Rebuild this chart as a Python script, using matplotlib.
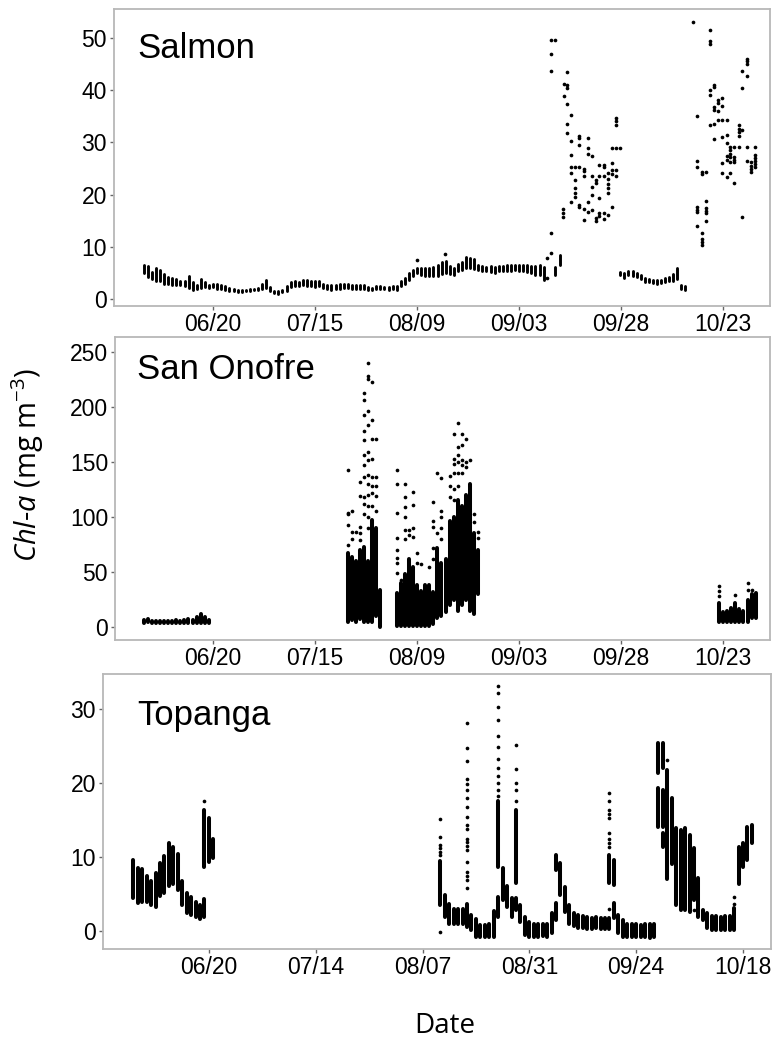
import numpy as np
import matplotlib
matplotlib.use('Agg')
import matplotlib.pyplot as plt

plt.rcParams['font.family'] = ['Liberation Sans', 'DejaVu Sans']
plt.rcParams['mathtext.fontset'] = 'custom'
plt.rcParams['mathtext.rm'] = 'Open Sans'
plt.rcParams['mathtext.it'] = 'Open Sans:italic'

# days counted from 06/20
# ---------------- Salmon ----------------
salmon_col_day = (list(range(-17, 82)) + [83.8, 85.0] +
                  [99.8, 100.8, 101.8, 102.8, 103.8, 104.8, 105.8, 106.8, 107.8, 108.8,
                   109.8, 110.7, 111.7, 112.7, 113.7, 114.7, 115.7, 116.7, 117.7])
salmon_col_lo = [5.0, 4.2, 3.8, 3.5, 3.5, 3.0, 3.0, 2.8, 2.8, 2.7, 2.5, 2.2, 1.8, 2.0, 2.2, 2.3, 2.2,
                 2.3, 2.0, 2.0, 1.8, 1.6, 1.5, 1.4, 1.4, 1.5, 1.5, 1.7, 1.8, 2.0, 2.2, 1.6, 1.1, 1.0, 1.3, 1.6,
                 2.4, 2.5, 2.6, 2.7, 2.6, 2.5, 2.4, 2.5, 2.2, 2.0, 1.8, 1.9, 2.0, 2.1, 2.2, 2.0, 2.0, 1.9, 2.0,
                 1.8, 1.7, 1.9, 2.0, 1.9, 1.7, 2.0, 1.8,
                 2.5, 3.0, 3.6, 4.5, 5.0, 4.6, 4.5, 4.4, 4.4, 4.5, 4.8, 5.0, 4.8, 4.6, 5.3, 5.6, 6.0, 6.0,
                 5.8, 5.5, 5.3, 5.3, 5.2, 5.0, 5.3, 5.4, 5.4, 5.3, 5.5, 5.4, 5.3, 5.2, 5.0, 4.6, 4.6, 3.6,
                 4.6, 6.5,
                 4.6, 4.1, 4.6, 4.5, 4.3, 3.8, 3.3, 3.2, 3.1, 3.0, 3.1, 3.2, 3.4, 3.5, 3.8, 2.0, 1.8, 1.4, 1.3]
salmon_col_hi = [6.5, 6.3, 5.2, 6.0, 5.6, 4.8, 4.2, 4.0, 3.8, 3.5, 3.4, 4.5, 3.2, 2.8, 3.8, 3.3, 2.8,
                 3.0, 2.9, 2.7, 2.5, 2.2, 1.9, 1.8, 1.8, 1.8, 1.9, 2.0, 2.2, 3.0, 3.7, 2.3, 1.6, 1.5, 1.8, 2.6,
                 3.3, 3.5, 3.3, 3.6, 3.6, 3.5, 3.4, 3.4, 3.0, 2.8, 2.7, 2.8, 2.9, 3.0, 2.9, 2.8, 2.7, 2.7, 2.8,
                 2.4, 2.2, 2.6, 2.5, 2.4, 2.4, 2.6, 2.5,
                 3.4, 4.0, 5.0, 5.6, 6.0, 5.9, 6.0, 5.9, 6.1, 6.6, 7.2, 7.3, 6.3, 6.0, 6.8, 7.2, 8.0, 7.8,
                 7.6, 6.5, 6.4, 6.2, 6.4, 6.2, 6.3, 6.4, 6.5, 6.5, 6.6, 6.6, 6.5, 6.5, 6.4, 6.3, 6.5, 6.1,
                 6.1, 8.4,
                 5.2, 5.0, 5.3, 5.3, 5.1, 4.6, 4.1, 3.8, 3.7, 3.6, 3.7, 4.1, 4.2, 4.8, 5.9, 2.8, 2.6, 1.4, 1.3]
salmon_pt_day = [49.9, 56.9, 81.8, 82.8, 83.8, 85.7, 86.1, 86.8, 87.8, 88.8, 89.8, 90.8, 92.0, 92.8,
                 93.8, 94.7, 95.7, 96.8, 97.7, 98.8, 99.8,
                 117.7, 118.7, 119.8, 120.8, 121.8, 122.8, 123.8, 124.8, 125.9, 126.7, 127.7,
                 128.8, 129.7, 130.8, 131.8, 132.8]
salmon_pt_val = [[7.5], [8.6], [7.8, 4.0], [49.5, 46.9, 43.7, 12.7, 8.9], [49.5],
                 [17.2, 16.5, 15.7], [41.2, 38.8], [43.5, 41.0, 40.3, 37.4, 33.5, 31.8],
                 [35.2, 30.3, 27.6, 25.3, 24.1, 18.6], [25.3, 22.8, 21.3, 20.4, 19.5],
                 [31.2, 30.8, 29.4, 25.3, 18.0, 17.6], [24.9, 24.5, 23.6, 17.2, 15.1],
                 [30.8, 28.9, 27.8, 18.6, 16.7], [27.3, 23.5, 21.5, 19.9, 17.0],
                 [22.8, 22.2, 15.5, 14.9], [25.7, 23.5, 19.4, 16.5, 15.9],
                 [25.7, 25.2, 23.5, 16.5, 15.3], [24.1, 23.0, 22.0, 21.2, 20.3, 16.1],
                 [28.9, 26.1, 24.7, 24.0, 17.7], [34.7, 34.0, 33.3, 28.9, 24.7, 23.6], [28.9],
                 [53.0], [35.1, 26.5, 25.2, 17.6, 17.1, 16.7, 14.0], [24.3, 23.9, 12.7, 11.5, 10.9, 10.3],
                 [24.3, 18.8, 17.4, 16.9, 16.5, 15.0], [51.5, 49.3, 48.9, 40.0, 39.0, 33.3],
                 [41.0, 40.5, 36.8, 36.2, 33.5, 30.6], [38.1, 37.5, 35.9, 34.3],
                 [38.5, 36.9, 34.3, 31.1, 26.1, 24.2], [34.3, 31.4, 29.9, 27.4, 26.6, 23.4],
                 [29.1, 28.5, 27.8, 27.2, 26.3, 24.2], [29.1, 27.2, 26.7, 26.3, 22.2],
                 [33.3, 32.6, 32.0, 31.2, 29.1], [43.6, 40.4, 32.3, 15.7],
                 [46.0, 45.5, 45.0, 42.6, 29.1, 26.4], [26.2, 25.5, 24.9, 24.3],
                 [29.1, 27.6, 27.0, 26.4, 25.8, 25.3]]

# ---------------- San Onofre ----------------
onofre_col_day = (list(range(-17, 0)) + list(range(33, 42)) + list(range(45, 66)) +
                  list(range(124, 134)))
onofre_col_lo = [4.0, 4.5, 3.5, 3.5, 3.5, 3.5, 3.5, 3.5, 3.5, 3.5, 3.5, 3.5, 3.5, 4.0, 4.0, 4.0, 3.5,
                 5, 6, 5, 7, 5, 5, 5, 10, 0.3,
                 0.5, 0.5, 0.5, 0.5, 0.5, 0.5, 0.5, 0.5, 1, 3, 8, 10, 14, 20, 25, 15, 20, 25, 15, 12, 30,
                 5, 5, 5, 5, 5, 5, 5, 5, 8, 8]
onofre_col_hi = [6.5, 7.0, 5.5, 5.5, 5.5, 5.5, 5.5, 5.5, 6.0, 5.5, 6.5, 7.0, 6.0, 9.0, 12.0, 9.0, 6.5,
                 67, 64, 60, 70, 73, 60, 97, 90, 34,
                 31, 40, 48, 62, 55, 38, 33, 38, 38, 32, 72, 58, 62, 96, 100, 115, 110, 120, 130, 85, 70,
                 22, 14, 15, 17, 22, 16, 15, 25, 30, 31]
onofre_pt_day = [33, 34, 35, 36, 37, 38, 39, 40, 45, 46, 47, 48, 49, 50, 51, 53, 54, 55, 56,
                 58, 59, 60, 61, 62, 63, 64, 65, 124, 128, 131, 132]
onofre_pt_val = [[143, 104, 103, 93, 75], [105, 86, 80], [86], [132, 119, 91, 85, 79],
                 [213, 206, 193, 178, 170, 156, 147, 136, 118, 112, 103],
                 [240, 228, 225, 196, 184, 159, 152, 138, 130, 120, 110, 100, 90],
                 [223, 188, 171, 153, 136, 128, 122, 110], [171, 136, 128, 119, 105],
                 [143, 130, 104, 81, 70, 63, 58, 49], [43, 37], [130, 118, 109, 100, 88, 80],
                 [88, 84], [123, 111, 90, 82], [67, 58], [57], [55], [114, 96, 91, 72, 62],
                 [140, 85], [135, 105, 100, 90, 80], [137, 128, 118],
                 [175, 153, 148, 140, 125, 115], [185, 164, 156, 150, 140, 128],
                 [175, 165, 152, 147, 140], [171, 150, 145], [152], [103, 95], [86, 81],
                 [37, 33, 28], [29], [40, 34], [34]]

# ---------------- Topanga ----------------
topanga_col_day = [-17, -16, -15, -14, -13, -12, -11, -10, -9, -8, -7, -6, -5, -4, -3, -2, -1, -1, 0, 1,
                   52, 53, 54, 55, 56, 57, 58, 59, 60, 61, 62, 63, 64, 65, 65, 66, 67, 68, 69, 69,
                   70, 71, 72, 73, 74, 75, 76, 77, 78, 78, 79, 80, 81, 82, 83, 84, 85, 86, 87, 88,
                   89, 90, 90, 91, 91, 92, 93, 94, 95, 96, 97, 98, 99, 100, 101, 101, 102, 102, 102,
                   103, 104, 105, 106, 107, 108, 109, 110, 111, 112, 113, 114, 115, 116, 117, 118,
                   119, 120, 121, 122]
topanga_col_lo = [4.5, 3.8, 4.0, 3.9, 3.6, 3.3, 4.7, 5.2, 6.1, 6.4, 5.6, 3.6, 2.4, 2.2, 1.9, 1.6, 1.9, 8.7,
                  9.4, 9.9,
                  3.5, 1.9, 1.0, 1.0, 1.0, 1.0, 0.6, 0.1, -0.8, -0.8, -0.8, -0.8, -0.8, 8.7, 1.9, 4.2,
                  3.2, 1.9, 6.5, 2.9,
                  1.3, -0.5, -0.8, -0.8, -0.8, -0.7, -0.8, -0.3, 8.2, 1.5, 4.9, 2.6, 1.0, 0.7, 0.5,
                  0.4, 0.3, 0.3, 0.4, 0.3,
                  0.3, 0.3, 6.5, 6.2, 1.8, -0.3, -0.8, -0.8, -0.8, -0.8, -0.8, -0.8, -0.9, -0.8,
                  21.3, 14.1, 22.0, 14.0, 11.4,
                  7.1, 9.1, 3.5, 2.8, 2.8, 2.6, 4.2, 1.9, 1.5, 0.5, 0.1, 0.1, 0.1, 0.1, 0.1, 0.1,
                  6.4, 8.7, 9.6, 11.9]
topanga_col_hi = [9.6, 8.5, 8.4, 7.4, 6.8, 7.9, 9.2, 10.2, 11.9, 11.3, 10.4, 6.8, 5.1, 4.6, 4.0, 3.6, 4.3,
                  16.4, 15.3, 12.4,
                  9.5, 4.9, 3.7, 3.0, 3.0, 3.0, 3.7, 2.2, 1.7, 0.8, 0.8, 1.0, 2.7, 17.5, 4.6, 8.5,
                  6.1, 4.5, 16.4, 4.5,
                  3.5, 1.9, 1.3, 1.0, 1.0, 1.0, 1.0, 2.4, 10.3, 3.8, 9.2, 6.0, 3.5, 2.4, 2.2,
                  2.0, 1.9, 1.8, 1.9, 1.8,
                  1.8, 1.8, 10.3, 9.6, 3.8, 2.2, 1.5, 1.0, 1.0, 1.0, 0.9, 1.0, 1.0, 1.0,
                  25.4, 19.3, 25.4, 19.0, 13.2,
                  21.8, 18.0, 13.9, 13.6, 13.9, 13.0, 11.2, 7.2, 2.8, 2.4, 2.0, 2.0, 1.9, 2.0, 2.0, 3.1,
                  11.4, 11.9, 14.1, 14.3]
topanga_pt_day = [-1, 52, 58, 65, 69, 90, 103, 109, 118]
topanga_pt_val = [[17.5], [15.2, 12.7, 11.6, 11.2, 10.7, 10.3, -0.1],
                  [28.1, 24.7, 22.9, 20.6, 19.8, 19.0, 18.0, 16.8, 15.4, 14.3, 13.8, 12.5, 12.0,
                   11.5, 10.9, 9.4, 8.0, 7.5, 6.9, 5.8],
                  [33.1, 32.1, 30.2, 28.5, 26.4, 24.8, 23.3, 22.0, 21.0, 20.0, 19.0, 18.3],
                  [25.1, 21.9, 20.0, 19.0, 17.6],
                  [18.6, 17.5, 16.4, 15.8, 15.3, 13.2, 12.5, 11.9, 11.4, 3.0],
                  [23.1], [2.8], [4.6, 3.7]]

ticks_a = [0, 25, 50, 75, 100, 125]
labels_a = ['06/20', '07/15', '08/09', '09/03', '09/28', '10/23']
ticks_b = [0, 24, 48, 72, 96, 120]
labels_b = ['06/20', '07/14', '08/07', '08/31', '09/24', '10/18']

W, H = 775, 1038
fig = plt.figure(figsize=(W / 100, H / 100), dpi=100)


def make_ax(left, top, right, bottom):
    return fig.add_axes([left / W, 1 - bottom / H, (right - left) / W, (bottom - top) / H])


def draw(ax, cd, clo, chi, pd, pv, lw):
    ax.vlines(cd, clo, chi, color='black', lw=lw, capstyle='round')
    xs = [d for d, vs in zip(pd, pv) for v in vs]
    ys = [v for vs in pv for v in vs]
    ax.scatter(xs, ys, s=7, color='black', lw=0)


def style(ax, xt, xl, yt):
    for sp in ax.spines.values():
        sp.set_color('#b8b8b8')
        sp.set_linewidth(1.3)
    ax.set_xticks(xt)
    ax.set_xticklabels(xl)
    ax.set_yticks(yt)
    ax.tick_params(length=3, width=1, color='#666666', labelsize=16.5, pad=2)


ax1 = make_ax(114, 9, 770, 306)
draw(ax1, salmon_col_day, salmon_col_lo, salmon_col_hi, salmon_pt_day, salmon_pt_val, 2.1)
ax1.set_xlim(-24.3, 136.5)
ax1.set_ylim(-1.3, 55.5)
style(ax1, ticks_a, labels_a, [0, 10, 20, 30, 40, 50])

ax2 = make_ax(115, 337, 770, 640)
draw(ax2, onofre_col_day, onofre_col_lo, onofre_col_hi, onofre_pt_day, onofre_pt_val, 2.9)
ax2.set_xlim(-24.0, 136.5)
ax2.set_ylim(-11.8, 263.6)
style(ax2, ticks_a, labels_a, [0, 50, 100, 150, 200, 250])

ax3 = make_ax(103, 674, 771, 949)
draw(ax3, topanga_col_day, topanga_col_lo, topanga_col_hi, topanga_pt_day, topanga_pt_val, 2.9)
ax3.set_xlim(-23.8, 126.3)
ax3.set_ylim(-2.4, 34.7)
style(ax3, ticks_b, labels_b, [0, 10, 20, 30])

for name, base in [('Salmon', 58), ('San Onofre', 379), ('Topanga', 725)]:
    fig.text(137 / W, 1 - base / H, name, fontsize=25, va='baseline', ha='left')

fig.text(28 / W, 1 - 465 / H, r'$\mathit{Chl}$-$\mathit{a}$ (mg m$^{-3}$)', rotation=90,
         ha='center', va='center', fontsize=21, family=['Open Sans', 'DejaVu Sans'])
fig.text(445 / W, 1 - 1033 / H, 'Date', ha='center', va='baseline', fontsize=20,
         family=['Open Sans', 'DejaVu Sans'])

fig.savefig('out.png', dpi=100)
